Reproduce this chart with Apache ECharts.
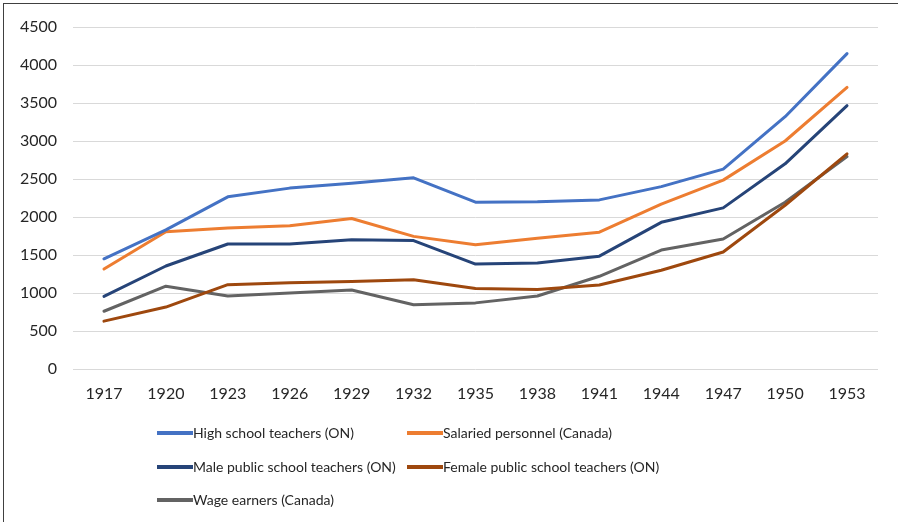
<!DOCTYPE html>
<html lang="en">
<head>
    <meta charset="UTF-8">
    <title>Salaries 1917-1953</title>
    <style>
        html, body { margin: 0; padding: 0; background: #fff; }
        #frame { position: absolute; left: 3px; top: 3px; width: 900px; height: 525px; border-left: 1px solid #404040; border-top: 1px solid #404040; }
        #main { position: absolute; left: 0; top: 0; width: 898px; height: 522px; }
    </style>
</head>
<body>
    <div id="frame"></div>
    <div id="main"></div>
</body>
<script src="https://cdn.jsdelivr.net/npm/echarts@6/dist/echarts.min.js"></script>
<script type="text/javascript">
    // 数据
    var years = ['1917','1920','1923','1926','1929','1932','1935','1938','1941','1944','1947','1950','1953'];
    var highSchool = [1450, 1830, 2265, 2380, 2445, 2515, 2195, 2200, 2225, 2400, 2630, 3320, 4150];
    var salaried = [1315, 1805, 1855, 1885, 1980, 1745, 1635, 1720, 1800, 2170, 2485, 3000, 3705];
    var malePublic = [955, 1355, 1645, 1645, 1700, 1690, 1380, 1395, 1485, 1930, 2120, 2700, 3465];
    var femalePublic = [630, 815, 1110, 1135, 1150, 1175, 1060, 1045, 1105, 1300, 1540, 2155, 2830];
    var wageEarners = [760, 1090, 960, 1000, 1040, 845, 870, 960, 1220, 1565, 1710, 2195, 2795];
    var yTicks = [0, 500, 1000, 1500, 2000, 2500, 3000, 3500, 4000, 4500];

    var names = ['High school teachers (ON)', 'Salaried personnel (Canada)',
        'Male public school teachers (ON)', 'Female public school teachers (ON)', 'Wage earners (Canada)'];
    var colors = ['#4472C4', '#ED7D31', '#264478', '#9E480E', '#636363'];
    var seriesData = [highSchool, salaried, malePublic, femalePublic, wageEarners];

    var font = 'Lato, "Open Sans", sans-serif';

    // 图例位置
    var legendPos = [[152, 421], [402, 421], [152, 455], [402, 455], [152, 488]];
    var legends = names.map(function (n, i) {
        return {
            data: [n],
            left: legendPos[i][0],
            top: legendPos[i][1],
            icon: 'rect',
            itemWidth: 36,
            itemHeight: 4,
            textStyle: { fontFamily: font, fontSize: 14, color: '#262626', padding: [0, 0, 0, -5] }
        };
    });

    var myChart = echarts.init(document.getElementById('main'));
    var option = {
        animation: false,
        color: colors,
        grid: { left: 73, right: 20, top: 27, bottom: 153, containLabel: false },
        legend: legends,
        xAxis: {
            type: 'category',
            data: years,
            boundaryGap: true,
            axisLine: { show: false },
            axisTick: { show: false },
            axisLabel: { fontFamily: font, fontSize: 16, color: '#262626', margin: 17 }
        },
        yAxis: {
            type: 'value',
            min: yTicks[0],
            max: yTicks[yTicks.length - 1],
            interval: 500,
            axisLine: { show: false },
            axisTick: { show: false },
            axisLabel: { fontFamily: font, fontSize: 16, color: '#262626', margin: 16,
                formatter: function (v) { return String(v); } },
            splitLine: { lineStyle: { color: '#D9D9D9', width: 1 } }
        },
        series: seriesData.map(function (d, i) {
            return {
                name: names[i],
                type: 'line',
                data: d,
                showSymbol: false,
                symbol: 'none',
                lineStyle: { width: 3, color: colors[i], cap: 'round', join: 'round' },
                itemStyle: { color: colors[i] },
                z: 10 - i
            };
        })
    };
    myChart.setOption(option);
</script>
</html>
